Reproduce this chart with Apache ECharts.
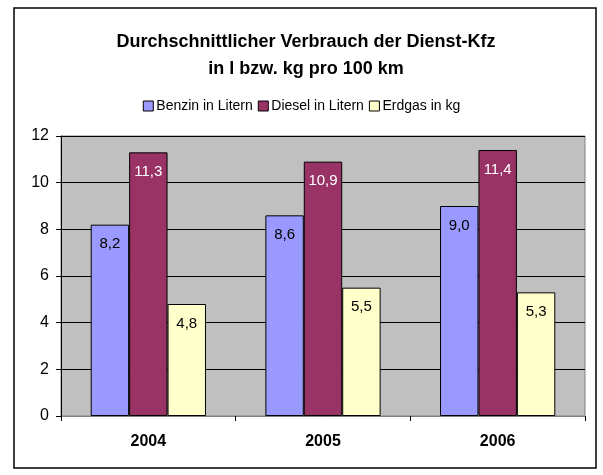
<!DOCTYPE html>
<html>
<head>
<meta charset="utf-8">
<script src="https://cdn.jsdelivr.net/npm/echarts@6/dist/echarts.min.js"></script>
<style>
  html, body { margin: 0; padding: 0; background: #fff; }
  #chart { width: 603px; height: 475px; }
</style>
</head>
<body>
<div id="chart"></div>
<script>
const years = ["2004", "2005", "2006"];
const benzin = [8.2, 8.6, 9.0];
const diesel = [11.3, 10.9, 11.4];
const erdgas = [4.8, 5.5, 5.3];
const seriesNames = ["Benzin in Litern", "Diesel in Litern", "Erdgas in kg"];

const myChart = echarts.init(document.getElementById("chart"));
const font = "Liberation Sans, Arial, sans-serif";
const fmt = (p) => p.value.toFixed(1).replace(".", ",");

function bar(name, data, color, labelColor) {
  return {
    name: name,
    type: "bar",
    data: data,
    barGap: "0%",
    barCategoryGap: "34%",
    itemStyle: { color: color, borderColor: "#000", borderWidth: 1 },
    label: {
      show: true,
      position: "insideTop",
      distance: 12,
      color: labelColor,
      fontFamily: font,
      fontSize: 15,
      formatter: fmt,
    },
  };
}

const option = {
  animation: false,
  graphic: [
    {
      type: "rect",
      shape: { x: 14, y: 8, width: 582, height: 460 },
      style: { fill: "none", stroke: "#000", lineWidth: 1.5 },
      silent: true,
    },
  ],
  title: {
    text: "Durchschnittlicher Verbrauch der Dienst-Kfz\nin l bzw. kg pro 100 km",
    left: 301,
    textAlign: "center",
    top: 24,
    textStyle: {
      fontFamily: font,
      fontSize: 18,
      fontWeight: "bold",
      color: "#000",
      lineHeight: 27,
    },
  },
  legend: {
    data: seriesNames,
    top: 94,
    left: "center",
    itemWidth: 10,
    itemHeight: 10,
    itemGap: 5,
    icon: "rect",
    itemStyle: { borderColor: "#000", borderWidth: 1 },
    textStyle: { fontFamily: font, fontSize: 14, color: "#000", padding: [0, 0, 0, -2] },
  },
  grid: {
    left: 61,
    right: 18,
    top: 136,
    bottom: 59,
    show: true,
    backgroundColor: "#C0C0C0",
    borderColor: "#808080",
    borderWidth: 1,
  },
  xAxis: {
    type: "category",
    data: years,
    axisLine: { lineStyle: { color: "#808080", width: 1 } },
    axisTick: { show: true, length: 5, lineStyle: { color: "#000" } },
    axisLabel: {
      fontFamily: font,
      fontSize: 16,
      fontWeight: "bold",
      color: "#000",
      margin: 18,
    },
  },
  yAxis: {
    type: "value",
    min: 0,
    max: 12,
    interval: 2,
    axisLine: { show: true, lineStyle: { color: "#000", width: 1 } },
    axisTick: { show: true, length: 5, lineStyle: { color: "#000" } },
    splitLine: { lineStyle: { color: "#000", width: 1 } },
    axisLabel: { fontFamily: font, fontSize: 16, color: "#000", margin: 12 },
  },
  series: [
    bar(seriesNames[0], benzin, "#9999FF", "#000"),
    bar(seriesNames[1], diesel, "#993366", "#fff"),
    bar(seriesNames[2], erdgas, "#FFFFCC", "#000"),
  ],
};
myChart.setOption(option);
</script>
</body>
</html>
